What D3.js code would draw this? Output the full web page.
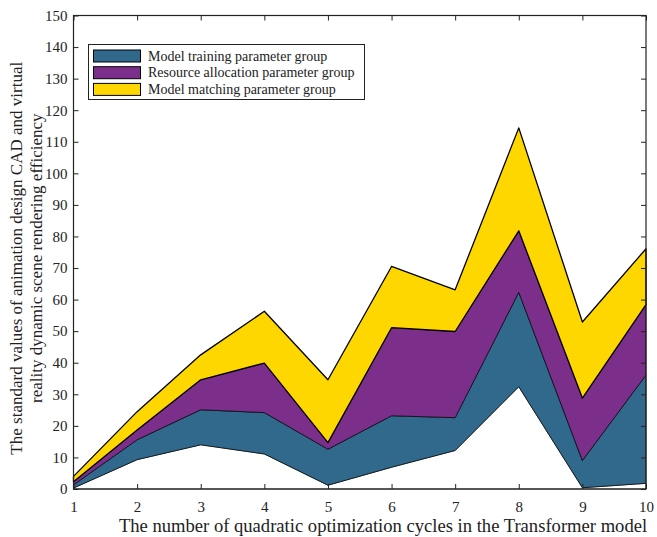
<!DOCTYPE html>
<html>
<head>
<meta charset="utf-8">
<script src="https://cdn.jsdelivr.net/npm/d3@7/dist/d3.min.js"></script>
<style>
  body { margin: 0; background: #fff; }
  svg text { font-family: "Liberation Serif", "Times New Roman", serif !important; fill: #222; }
</style>
</head>
<body>
<svg id="chart" width="657" height="537"></svg>
<script>
// Optimization cycles
const cycles = [1, 2, 3, 4, 5, 6, 7, 8, 9, 10];
// Hidden offset layer under the coloured groups
const baseline   = [0.3, 9.3, 14.0, 11.1, 1.2, 6.9, 12.2, 32.4, 0.4, 1.8];
// Stacked contributions of each parameter group
const training   = [1.0, 6.3, 11.1, 13.1, 11.4, 16.3, 10.4, 29.9, 8.6, 34.3];
const allocation = [1.0, 3.1, 9.5, 15.7, 2.1, 27.9, 27.3, 19.5, 19.8, 22.3];
const matching   = [1.7, 5.8, 7.9, 16.4, 19.9, 19.4, 13.2, 32.6, 24.1, 17.7];

const seriesNames = ["Model training parameter group", "Resource allocation parameter group", "Model matching parameter group"];
const seriesColors = ["#30698c", "#7b2e8a", "#ffd700"];
const yTicks = d3.range(0, 151, 10);

const serif = '"Liberation Serif", "Times New Roman", serif';
const svg = d3.select("#chart");
const m = { left: 73.5, right: 646, top: 15.5, bottom: 489 };

const x = d3.scaleLinear().domain([1, 10]).range([m.left, m.right]);
const y = d3.scaleLinear().domain([0, 150]).range([m.bottom, m.top]);

const rows = cycles.map((c, i) => ({
  cycle: c, base: baseline[i], s0: training[i], s1: allocation[i], s2: matching[i]
}));
const keys = ["base", "s0", "s1", "s2"];
const stacked = d3.stack().keys(keys)(rows);

const area = d3.area()
  .x(d => x(d.data.cycle))
  .y0(d => y(d[0]))
  .y1(d => y(d[1]));

const fills = ["#ffffff", ...seriesColors];
svg.append("g").selectAll("path")
  .data(stacked)
  .join("path")
  .attr("d", area)
  .attr("fill", (d, i) => fills[i])
  .attr("stroke", "#000")
  .attr("stroke-width", (d, i) => i === 3 ? 1.3 : 0.7)
  .attr("stroke-linejoin", "round");

// Frame with inward ticks on all four sides
const tickLen = 5;
const frame = svg.append("g").attr("stroke", "#222").attr("stroke-width", 1.2).attr("fill", "none");
frame.append("rect")
  .attr("x", m.left).attr("y", m.top)
  .attr("width", m.right - m.left).attr("height", m.bottom - m.top);

const xAxisB = d3.axisBottom(x).tickValues(cycles).tickSizeInner(-tickLen).tickSizeOuter(0).tickPadding(12).tickFormat(d3.format("d"));
const xAxisT = d3.axisTop(x).tickValues(cycles).tickSizeInner(-tickLen).tickSizeOuter(0).tickFormat("");
const yAxisL = d3.axisLeft(y).tickValues(yTicks).tickSizeInner(-tickLen).tickSizeOuter(0).tickPadding(6).tickFormat(d3.format("d"));
const yAxisR = d3.axisRight(y).tickValues(yTicks).tickSizeInner(-tickLen).tickSizeOuter(0).tickFormat("");

function styleAxis(g) {
  g.attr("font-family", null).attr("font-size", null);
  g.select(".domain").remove();
  g.selectAll(".tick line").attr("stroke", "#222").attr("stroke-width", 1);
  g.selectAll(".tick text")
    .style("font-family", serif).style("font-size", "15px").attr("fill", "#222");
}
svg.append("g").attr("transform", `translate(0,${m.bottom})`).call(xAxisB).call(styleAxis);
svg.append("g").attr("transform", `translate(0,${m.top})`).call(xAxisT).call(styleAxis);
svg.append("g").attr("transform", `translate(${m.left},0)`).call(yAxisL).call(styleAxis);
svg.append("g").attr("transform", `translate(${m.right},0)`).call(yAxisR).call(styleAxis);

// Axis titles
svg.append("text")
  .attr("x", 383).attr("y", 532)
  .attr("text-anchor", "middle").style("font-size", "18.6px")
  .text("The number of quadratic optimization cycles in the Transformer model");

const yl = svg.append("text")
  .attr("transform", `translate(22,${(m.top + m.bottom) / 2 + 6}) rotate(-90)`)
  .attr("text-anchor", "middle").style("font-size", "17px");
yl.append("tspan").attr("x", 0).attr("dy", 0)
  .text("The standard values of animation design CAD and virtual");
yl.append("tspan").attr("x", 0).attr("dy", 20)
  .text("reality dynamic scene rendering efficiency");

// Legend
const lg = svg.append("g");
lg.append("rect")
  .attr("x", 88.5).attr("y", 44.5).attr("width", 276).attr("height", 55)
  .attr("fill", "#fff").attr("stroke", "#222").attr("stroke-width", 1);
seriesNames.forEach((name, i) => {
  const yy = 50 + i * 16.7;
  lg.append("rect")
    .attr("x", 93.5).attr("y", yy).attr("width", 47).attr("height", 12)
    .attr("fill", seriesColors[i]).attr("stroke", "#000").attr("stroke-width", 1);
  lg.append("text")
    .attr("x", 148).attr("y", yy + 10.5)
    .style("font-size", "14px")
    .text(name);
});
</script>
</body>
</html>
